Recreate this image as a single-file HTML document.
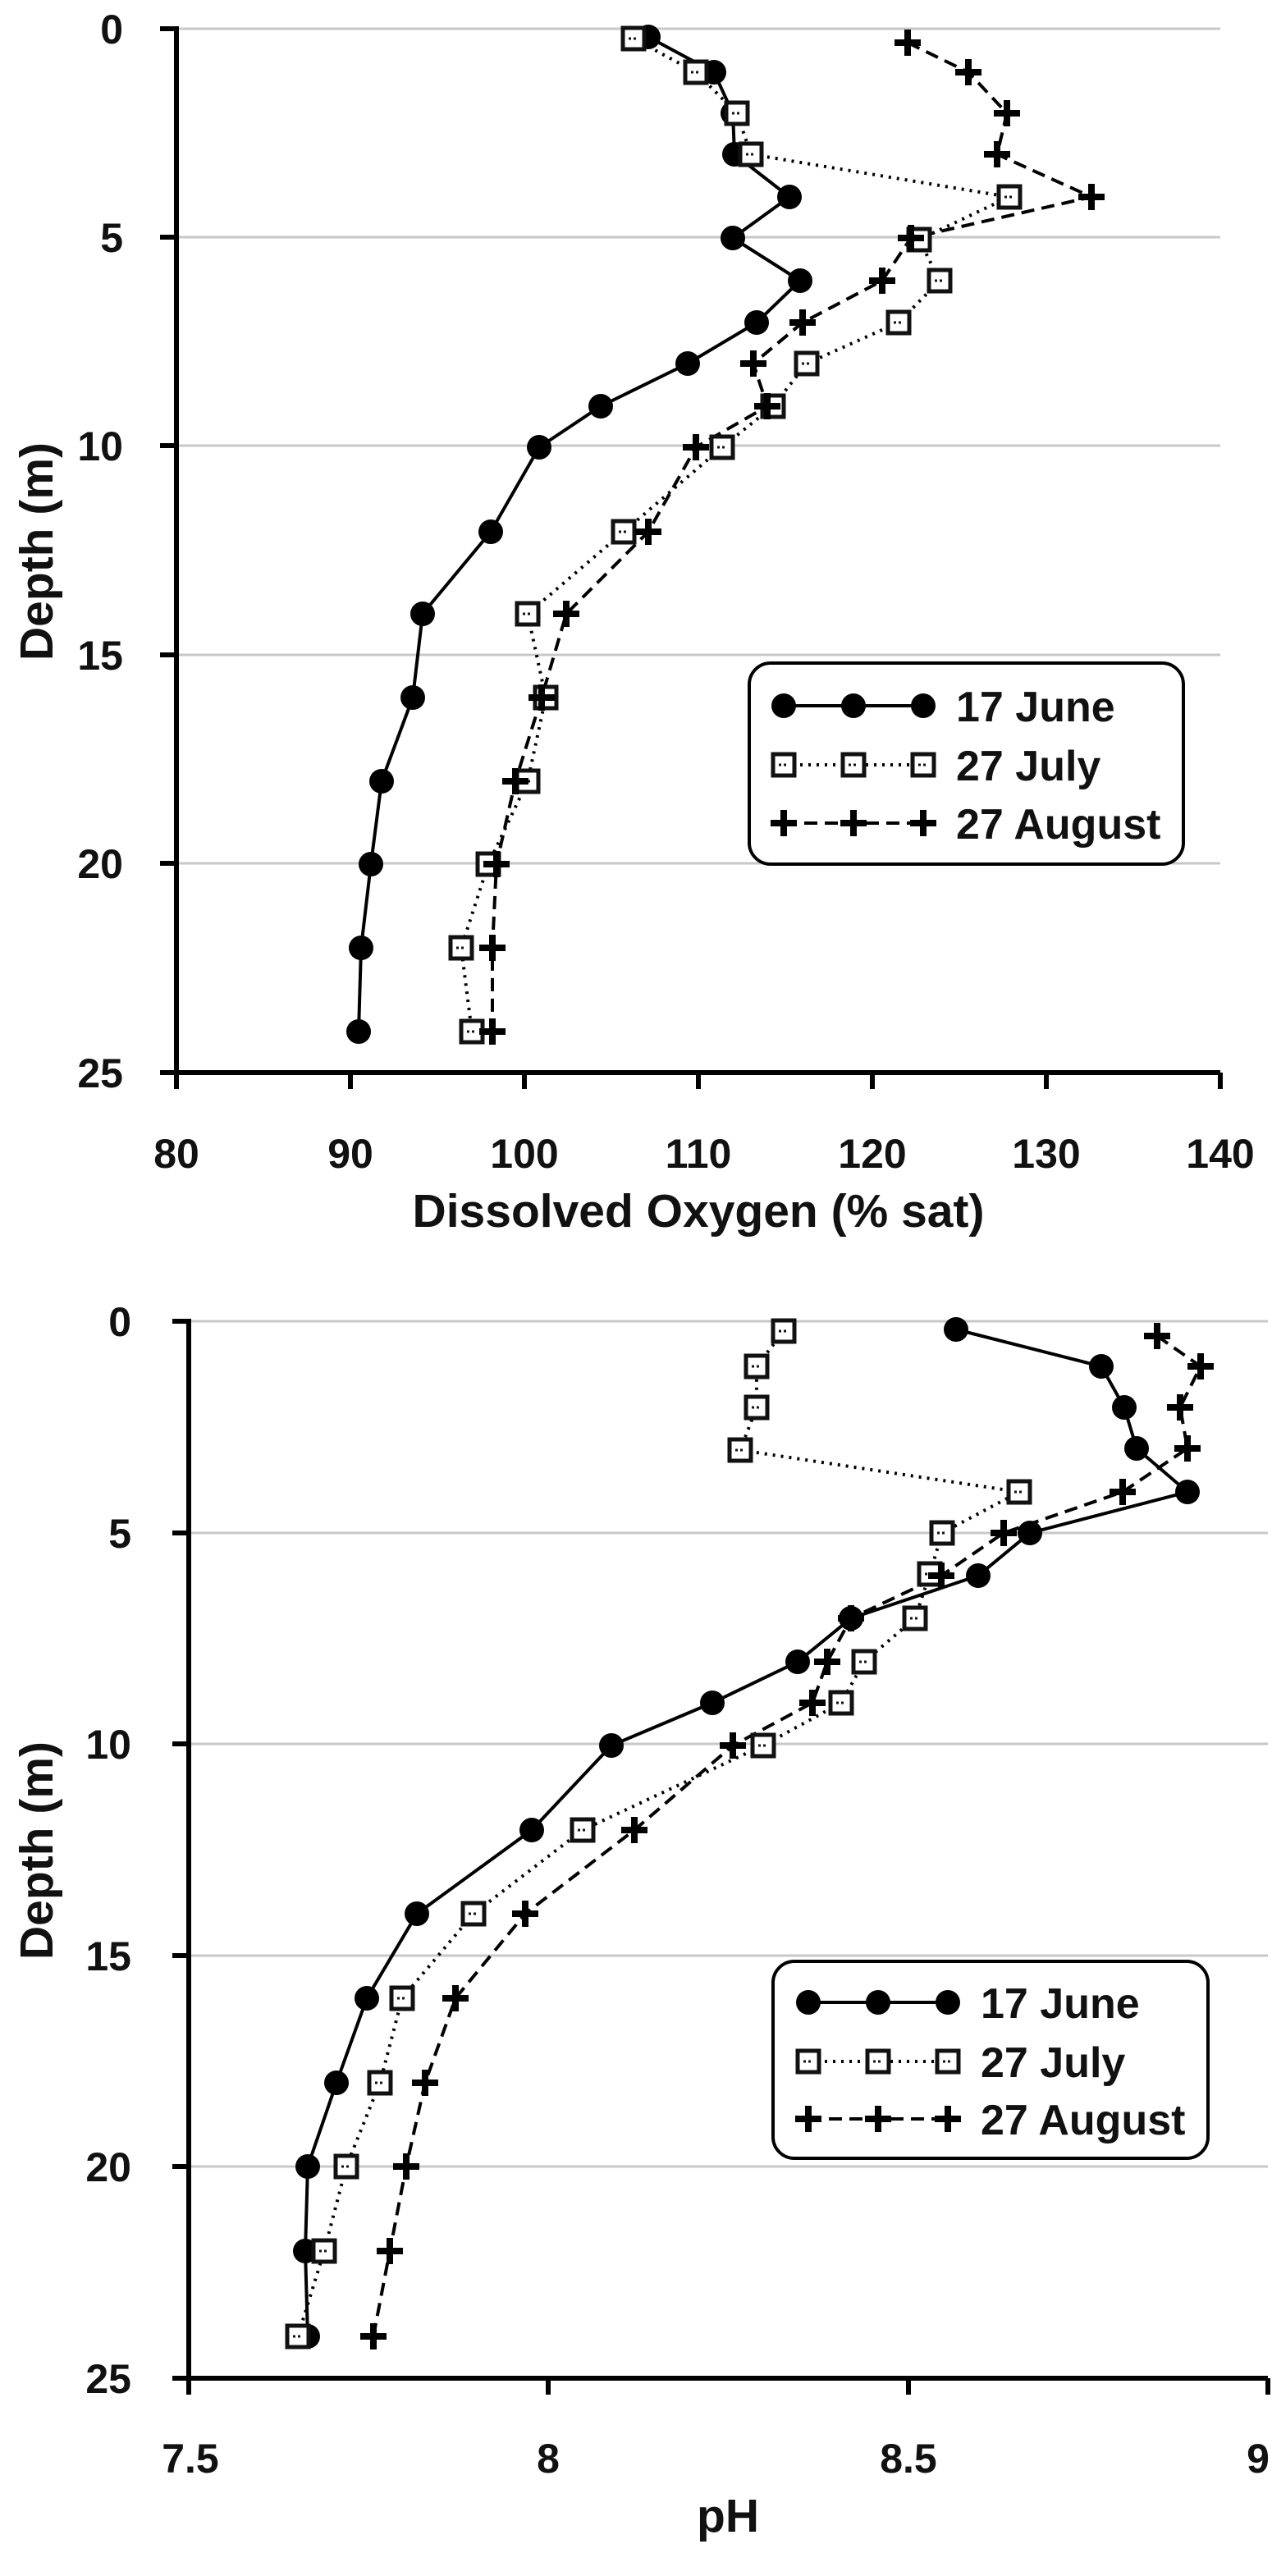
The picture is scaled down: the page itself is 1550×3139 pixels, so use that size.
<!DOCTYPE html>
<html><head><meta charset="utf-8"><style>
html,body{margin:0;padding:0;background:#fff;}
svg{display:block;}
text{font-family:"Liberation Sans",sans-serif;font-weight:bold;fill:#111;}
</style></head><body>
<svg width="1550" height="3139" viewBox="0 0 1550 3139" xmlns="http://www.w3.org/2000/svg">
<defs>
<g id="ci"><circle r="15" fill="#000"/></g>
<g id="sq"><rect x="-13" y="-13" width="26" height="26" fill="#fff" stroke="#111" stroke-width="5"/><line x1="-6" y1="0" x2="6" y2="0" stroke="#111" stroke-width="3" stroke-dasharray="3,3"/></g>
<g id="pl"><path d="M-16 0H16M0 -16V16" stroke="#000" stroke-width="8"/></g>
</defs>

<!-- TOP CHART -->
<g>
<g stroke="#c8c8c8" stroke-width="3">
<line x1="215" y1="35" x2="1487" y2="35"/><line x1="215" y1="289" x2="1487" y2="289"/><line x1="215" y1="543" x2="1487" y2="543"/><line x1="215" y1="798" x2="1487" y2="798"/><line x1="215" y1="1052" x2="1487" y2="1052"/>
</g>
<g stroke="#000" stroke-width="6" fill="none">
<path d="M215 32V1307H1487"/>
<path d="M195 35H215M195 289H215M195 543H215M195 798H215M195 1052H215M195 1307H215"/>
<path d="M215 1307V1327M427 1307V1327M639 1307V1327M851 1307V1327M1063 1307V1327M1275 1307V1327M1487 1307V1327"/>
</g>
<g font-size="50" text-anchor="end">
<text x="150" y="53">0</text><text x="150" y="307">5</text><text x="150" y="561">10</text><text x="150" y="816">15</text><text x="150" y="1070">20</text><text x="150" y="1325">25</text>
</g>
<g font-size="50" text-anchor="middle">
<text x="215" y="1423">80</text><text x="427" y="1423">90</text><text x="639" y="1423">100</text><text x="851" y="1423">110</text><text x="1063" y="1423">120</text><text x="1275" y="1423">130</text><text x="1487" y="1423">140</text>
</g>
<g font-size="57" text-anchor="middle">
<text x="851" y="1495">Dissolved Oxygen (% sat)</text>
<text transform="translate(64,672) rotate(-90)">Depth (m)</text>
</g>
<polyline fill="none" stroke="#000" stroke-width="4" points="790,45 870,88 893,138 895,188 962,240 893,290 975,342 922,393 838,443 732,495 657,545 598,648 515,748 503,850 465,952 452,1053 440,1155 437,1257"/>
<polyline fill="none" stroke="#000" stroke-width="4" stroke-dasharray="3,7" points="772,47 848,88 898,138 915,188 1230,240 1120,292 1145,342 1095,393 983,443 942,495 880,545 760,648 643,748 665,850 643,952 595,1053 562,1155 575,1257"/>
<polyline fill="none" stroke="#000" stroke-width="4" stroke-dasharray="16,9" points="1106,52 1180,88 1227,138 1215,188 1330,240 1110,290 1075,342 978,393 918,443 935,495 848,545 790,648 690,748 660,850 628,952 605,1053 600,1155 600,1257"/>
<g>
<use href="#ci" x="790" y="45"/><use href="#ci" x="870" y="88"/><use href="#ci" x="893" y="138"/><use href="#ci" x="895" y="188"/><use href="#ci" x="962" y="240"/><use href="#ci" x="893" y="290"/><use href="#ci" x="975" y="342"/><use href="#ci" x="922" y="393"/><use href="#ci" x="838" y="443"/><use href="#ci" x="732" y="495"/><use href="#ci" x="657" y="545"/><use href="#ci" x="598" y="648"/><use href="#ci" x="515" y="748"/><use href="#ci" x="503" y="850"/><use href="#ci" x="465" y="952"/><use href="#ci" x="452" y="1053"/><use href="#ci" x="440" y="1155"/><use href="#ci" x="437" y="1257"/>
<use href="#sq" x="772" y="47"/><use href="#sq" x="848" y="88"/><use href="#sq" x="898" y="138"/><use href="#sq" x="915" y="188"/><use href="#sq" x="1230" y="240"/><use href="#sq" x="1120" y="292"/><use href="#sq" x="1145" y="342"/><use href="#sq" x="1095" y="393"/><use href="#sq" x="983" y="443"/><use href="#sq" x="942" y="495"/><use href="#sq" x="880" y="545"/><use href="#sq" x="760" y="648"/><use href="#sq" x="643" y="748"/><use href="#sq" x="665" y="850"/><use href="#sq" x="643" y="952"/><use href="#sq" x="595" y="1053"/><use href="#sq" x="562" y="1155"/><use href="#sq" x="575" y="1257"/>
<use href="#pl" x="1106" y="52"/><use href="#pl" x="1180" y="88"/><use href="#pl" x="1227" y="138"/><use href="#pl" x="1215" y="188"/><use href="#pl" x="1330" y="240"/><use href="#pl" x="1110" y="290"/><use href="#pl" x="1075" y="342"/><use href="#pl" x="978" y="393"/><use href="#pl" x="918" y="443"/><use href="#pl" x="935" y="495"/><use href="#pl" x="848" y="545"/><use href="#pl" x="790" y="648"/><use href="#pl" x="690" y="748"/><use href="#pl" x="660" y="850"/><use href="#pl" x="628" y="952"/><use href="#pl" x="605" y="1053"/><use href="#pl" x="600" y="1155"/><use href="#pl" x="600" y="1257"/>
</g>
<rect x="913" y="808" width="529" height="245" rx="26" fill="#fff" stroke="#000" stroke-width="4"/>
<line x1="955" y1="860" x2="1125" y2="860" stroke="#000" stroke-width="4"/>
<line x1="955" y1="932" x2="1125" y2="932" stroke="#000" stroke-width="4" stroke-dasharray="3,7"/>
<line x1="955" y1="1003" x2="1125" y2="1003" stroke="#000" stroke-width="4" stroke-dasharray="16,9"/>
<use href="#ci" x="955" y="860"/><use href="#ci" x="1040" y="860"/><use href="#ci" x="1125" y="860"/>
<use href="#sq" x="955" y="932"/><use href="#sq" x="1040" y="932"/><use href="#sq" x="1125" y="932"/>
<use href="#pl" x="955" y="1003"/><use href="#pl" x="1040" y="1003"/><use href="#pl" x="1125" y="1003"/>
<g font-size="52"><text x="1165" y="879">17 June</text><text x="1165" y="951">27 July</text><text x="1165" y="1022">27 August</text></g>
</g>

<!-- BOTTOM CHART -->
<g transform="translate(0,1550)">
<g stroke="#c8c8c8" stroke-width="3">
<line x1="230" y1="60" x2="1545" y2="60"/><line x1="230" y1="318" x2="1545" y2="318"/><line x1="230" y1="575" x2="1545" y2="575"/><line x1="230" y1="833" x2="1545" y2="833"/><line x1="230" y1="1090" x2="1545" y2="1090"/>
</g>
<g stroke="#000" stroke-width="6" fill="none">
<path d="M230 57V1348H1545"/>
<path d="M210 60H230M210 318H230M210 575H230M210 833H230M210 1090H230M210 1348H230"/>
<path d="M230 1348V1368M668 1348V1368M1107 1348V1368M1545 1348V1368"/>
</g>
<g font-size="50" text-anchor="end">
<text x="160" y="78">0</text><text x="160" y="336">5</text><text x="160" y="593">10</text><text x="160" y="851">15</text><text x="160" y="1108">20</text><text x="160" y="1366">25</text>
</g>
<g font-size="50" text-anchor="middle">
<text x="232" y="1463">7.5</text><text x="668" y="1463">8</text><text x="1107" y="1463">8.5</text><text x="1533" y="1463">9</text>
</g>
<g font-size="57" text-anchor="middle">
<text x="887" y="1535">pH</text>
<text transform="translate(64,705) rotate(-90)">Depth (m)</text>
</g>
<polyline fill="none" stroke="#000" stroke-width="4" points="1165,70 1342,115 1370,165 1385,215 1447,268 1255,318 1192,370 1037,422 972,475 868,525 745,577 648,680 508,782 447,885 410,988 375,1090 372,1193 375,1297"/>
<polyline fill="none" stroke="#000" stroke-width="4" stroke-dasharray="3,7" points="955,72 922,115 922,165 902,217 1242,268 1148,318 1133,368 1115,422 1053,475 1025,525 930,577 710,680 577,782 490,885 463,988 422,1090 395,1193 363,1297"/>
<polyline fill="none" stroke="#000" stroke-width="4" stroke-dasharray="16,9" points="1410,78 1463,115 1438,165 1447,215 1368,268 1223,318 1147,370 1037,422 1008,475 990,525 893,577 773,680 640,782 555,885 518,988 495,1090 475,1193 455,1297"/>
<g>
<use href="#ci" x="1165" y="70"/><use href="#ci" x="1342" y="115"/><use href="#ci" x="1370" y="165"/><use href="#ci" x="1385" y="215"/><use href="#ci" x="1447" y="268"/><use href="#ci" x="1255" y="318"/><use href="#ci" x="1192" y="370"/><use href="#ci" x="1037" y="422"/><use href="#ci" x="972" y="475"/><use href="#ci" x="868" y="525"/><use href="#ci" x="745" y="577"/><use href="#ci" x="648" y="680"/><use href="#ci" x="508" y="782"/><use href="#ci" x="447" y="885"/><use href="#ci" x="410" y="988"/><use href="#ci" x="375" y="1090"/><use href="#ci" x="372" y="1193"/><use href="#ci" x="375" y="1297"/>
<use href="#sq" x="955" y="72"/><use href="#sq" x="922" y="115"/><use href="#sq" x="922" y="165"/><use href="#sq" x="902" y="217"/><use href="#sq" x="1242" y="268"/><use href="#sq" x="1148" y="318"/><use href="#sq" x="1133" y="368"/><use href="#sq" x="1115" y="422"/><use href="#sq" x="1053" y="475"/><use href="#sq" x="1025" y="525"/><use href="#sq" x="930" y="577"/><use href="#sq" x="710" y="680"/><use href="#sq" x="577" y="782"/><use href="#sq" x="490" y="885"/><use href="#sq" x="463" y="988"/><use href="#sq" x="422" y="1090"/><use href="#sq" x="395" y="1193"/><use href="#sq" x="363" y="1297"/>
<use href="#pl" x="1410" y="78"/><use href="#pl" x="1463" y="115"/><use href="#pl" x="1438" y="165"/><use href="#pl" x="1447" y="215"/><use href="#pl" x="1368" y="268"/><use href="#pl" x="1223" y="318"/><use href="#pl" x="1147" y="370"/><use href="#pl" x="1037" y="422"/><use href="#pl" x="1008" y="475"/><use href="#pl" x="990" y="525"/><use href="#pl" x="893" y="577"/><use href="#pl" x="773" y="680"/><use href="#pl" x="640" y="782"/><use href="#pl" x="555" y="885"/><use href="#pl" x="518" y="988"/><use href="#pl" x="495" y="1090"/><use href="#pl" x="475" y="1193"/><use href="#pl" x="455" y="1297"/>
</g>
<rect x="942" y="840" width="530" height="240" rx="26" fill="#fff" stroke="#000" stroke-width="4"/>
<line x1="985" y1="890" x2="1155" y2="890" stroke="#000" stroke-width="4"/>
<line x1="985" y1="962" x2="1155" y2="962" stroke="#000" stroke-width="4" stroke-dasharray="3,7"/>
<line x1="985" y1="1032" x2="1155" y2="1032" stroke="#000" stroke-width="4" stroke-dasharray="16,9"/>
<use href="#ci" x="985" y="890"/><use href="#ci" x="1070" y="890"/><use href="#ci" x="1155" y="890"/>
<use href="#sq" x="985" y="962"/><use href="#sq" x="1070" y="962"/><use href="#sq" x="1155" y="962"/>
<use href="#pl" x="985" y="1032"/><use href="#pl" x="1070" y="1032"/><use href="#pl" x="1155" y="1032"/>
<g font-size="52"><text x="1195" y="909">17 June</text><text x="1195" y="981">27 July</text><text x="1195" y="1051">27 August</text></g>
</g>
</svg>
</body></html>
